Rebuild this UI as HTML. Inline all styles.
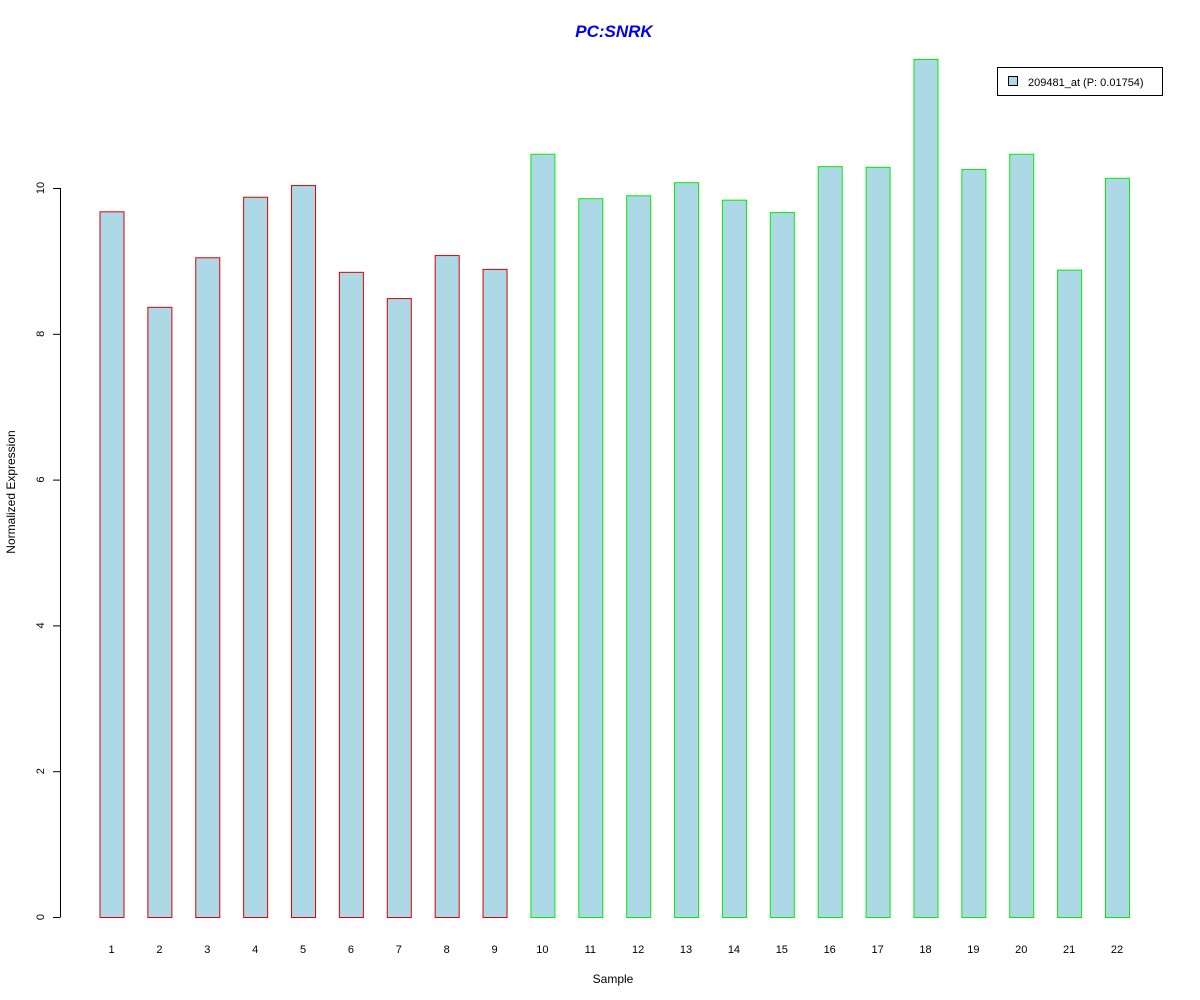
<!DOCTYPE html>
<html><head><meta charset="utf-8"><style>
body{margin:0;background:#fff}
svg{display:block;font-family:"Liberation Sans",Arial,sans-serif}
</style></head><body>
<svg id="chart" width="1200" height="1000" viewBox="0 0 1200 1000" xmlns="http://www.w3.org/2000/svg">
<rect width="1200" height="1000" fill="#fff"/>
<text x="614" y="37" text-anchor="middle" font-size="17" font-weight="bold" font-style="italic" fill="#0000ee">PC:SNRK</text>
<text x="613" y="983" text-anchor="middle" font-size="12">Sample</text>
<text transform="translate(15,492) rotate(-90)" text-anchor="middle" font-size="12">Normalized Expression</text>
<g id="yaxis"></g>
<g id="bars"></g>
<g id="xlabels"></g>
<g>
<rect x="997.5" y="67.5" width="165" height="28" fill="#fff" stroke="#000"/>
<rect x="1008.5" y="76.5" width="9" height="9" fill="#add8e6" stroke="#000"/>
<text x="1028" y="86" font-size="11">209481_at (P: 0.01754)</text>
</g>
</svg>
<script>
const categories=["1","2","3","4","5","6","7","8","9","10","11","12","13","14","15","16","17","18","19","20","21","22"];
const values=[9.68,8.37,9.05,9.88,10.04,8.85,8.49,9.08,8.89,10.47,9.86,9.90,10.08,9.84,9.67,10.30,10.29,11.77,10.26,10.47,8.88,10.14];
const groups=["a","a","a","a","a","a","a","a","a","b","b","b","b","b","b","b","b","b","b","b","b","b"];
const yTicks=[0,2,4,6,8,10];
const NS="http://www.w3.org/2000/svg";
const y=v=>917-v*72.9;
const x=i=>111.5+i*47.88;
function mk(t,a,p){const e=document.createElementNS(NS,t);for(const k in a)e.setAttribute(k,a[k]);p.appendChild(e);return e;}
const ya=document.getElementById('yaxis');
let ax=mk('line',{x1:60.5,x2:60.5,y1:y(0),y2:y(10),stroke:'#000'},ya);


yTicks.forEach(t=>{
 const l=mk('line',{x1:53,x2:60.5,y1:y(t)+0.5,y2:y(t)+0.5,stroke:'#000'},ya);
 
 
 const tx=mk('text',{transform:`translate(44,${y(t)}) rotate(-90)`,'text-anchor':'middle','font-size':11},ya);
 
 
 tx.textContent=t;
});
const bg=document.getElementById('bars'),xl=document.getElementById('xlabels');
values.forEach((v,i)=>{
 const r=mk('rect',{x:x(i)-12+0.5,y:y(v)+0.5,width:24,height:y(0)-y(v),fill:'#add8e6',stroke:groups[i]==='a'?'#dd0000':'#00ee00'},bg);
 
 
 const t=mk('text',{x:x(i),y:953,'text-anchor':'middle','font-size':11},xl);
 
 
 t.textContent=categories[i];
});
</script>
</body></html>
